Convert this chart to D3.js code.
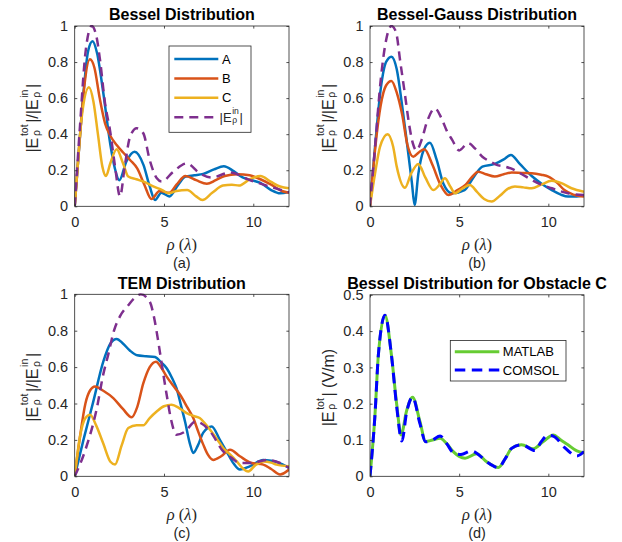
<!DOCTYPE html>
<html>
<head>
<meta charset="utf-8">
<script src="https://cdn.jsdelivr.net/npm/d3@7"></script>
<style>
  body { margin: 0; background: #fff; }
  svg { display: block; font-family: "Liberation Sans", Arial, Helvetica, sans-serif; }
</style>
</head>
<body>
<svg id="chart" width="622" height="542"></svg>
<script>
// ---- data: [rho (lambda), value] ----
const besselA = [[0,0],[0.25,0.33],[0.5,0.64],[0.75,0.86],[1.0,0.915],[1.25,0.85],[1.6,0.63],[2.0,0.34],[2.25,0.21],[2.5,0.145],[2.9,0.25],[3.35,0.303],[3.85,0.23],[4.2,0.11],[4.5,0.035],[4.85,0.075],[5.3,0.055],[5.8,0.12],[6.2,0.165],[6.7,0.172],[7.2,0.18],[7.8,0.205],[8.35,0.222],[8.9,0.195],[9.4,0.16],[9.9,0.145],[10.4,0.13],[11.0,0.09],[11.5,0.072],[12,0.08]];
const besselB = [[0,0],[0.25,0.33],[0.5,0.63],[0.85,0.815],[1.1,0.77],[1.4,0.6],[1.7,0.46],[2.0,0.39],[2.35,0.34],[2.7,0.3],[3.1,0.257],[3.5,0.21],[3.9,0.12],[4.3,0.04],[4.75,0.085],[5.3,0.075],[5.7,0.12],[6.2,0.168],[6.8,0.145],[7.4,0.125],[7.9,0.145],[8.4,0.168],[9.1,0.178],[9.8,0.172],[10.4,0.15],[11.0,0.12],[11.6,0.085],[12,0.075]];
const besselC = [[0,0],[0.15,0.2],[0.4,0.5],[0.8,0.66],[1.05,0.58],[1.3,0.4],[1.55,0.22],[1.75,0.168],[2.0,0.24],[2.35,0.316],[2.7,0.24],[3.0,0.165],[3.45,0.15],[3.9,0.135],[4.4,0.11],[4.9,0.09],[5.25,0.072],[5.7,0.085],[6.3,0.09],[6.8,0.055],[7.15,0.035],[7.7,0.075],[8.3,0.115],[8.8,0.12],[9.2,0.115],[9.8,0.15],[10.4,0.168],[11.0,0.135],[11.5,0.11],[12,0.1]];
const besselInc = [[0,0],[0.3,0.45],[0.6,0.85],[0.95,1.0],[1.2,0.95],[1.42,0.81],[1.7,0.57],[1.98,0.42],[2.26,0.22],[2.54,0.055],[2.8,0.22],[3.1,0.386],[3.47,0.433],[3.84,0.405],[4.2,0.257],[4.6,0.155],[4.87,0.137],[5.5,0.19],[6.27,0.238],[7.0,0.183],[7.67,0.16],[8.7,0.187],[9.8,0.146],[10.9,0.11],[12,0.078]];

const gaussA = [[0,0],[0.3,0.35],[0.6,0.65],[0.9,0.8],[1.2,0.83],[1.5,0.76],[1.8,0.56],[2.1,0.33],[2.35,0.13],[2.5,0.007],[2.71,0.18],[3.0,0.31],[3.36,0.353],[3.74,0.257],[4.11,0.127],[4.6,0.072],[5.3,0.09],[5.8,0.16],[6.3,0.22],[7.0,0.235],[7.5,0.26],[7.9,0.285],[8.4,0.235],[9.1,0.165],[9.7,0.12],[10.2,0.09],[10.7,0.065],[11.1,0.054],[11.6,0.055],[12,0.063]];
const gaussB = [[0,0],[0.3,0.33],[0.6,0.56],[0.9,0.67],[1.2,0.695],[1.5,0.63],[1.8,0.51],[2.1,0.34],[2.43,0.275],[2.75,0.3],[3.05,0.316],[3.5,0.23],[3.95,0.12],[4.4,0.063],[4.9,0.09],[5.35,0.118],[5.7,0.16],[6.07,0.192],[6.5,0.178],[7.0,0.165],[7.5,0.178],[7.95,0.187],[8.5,0.185],[9.07,0.183],[9.6,0.175],[10.0,0.165],[10.5,0.13],[10.9,0.09],[11.4,0.065],[12,0.054]];
const gaussC = [[0,0],[0.28,0.18],[0.56,0.33],[0.99,0.4],[1.3,0.33],[1.5,0.22],[1.96,0.103],[2.3,0.18],[2.71,0.235],[3.1,0.16],[3.55,0.09],[3.9,0.12],[4.2,0.155],[4.5,0.11],[4.77,0.072],[5.2,0.1],[5.6,0.118],[6.0,0.08],[6.4,0.04],[6.82,0.026],[7.3,0.06],[7.7,0.095],[8.13,0.11],[8.6,0.105],[9.07,0.1],[9.6,0.12],[10.19,0.142],[10.7,0.13],[11.3,0.1],[12,0.081]];
const gaussInc = [[0,0],[0.3,0.35],[0.6,0.7],[0.9,0.92],[1.2,1.0],[1.45,0.97],[1.7,0.8],[1.96,0.62],[2.2,0.45],[2.4,0.35],[2.6,0.31],[2.9,0.37],[3.2,0.47],[3.64,0.543],[4.0,0.49],[4.3,0.42],[4.6,0.37],[5.0,0.31],[5.5,0.35],[5.9,0.32],[6.3,0.275],[6.7,0.25],[7.1,0.23],[7.5,0.222],[7.9,0.21],[8.4,0.185],[9.07,0.146],[9.6,0.12],[10.2,0.1],[10.7,0.083],[11.1,0.072],[12,0.063]];

const temA = [[0,0],[0.49,0.2],[1.04,0.41],[1.6,0.63],[2.0,0.73],[2.35,0.755],[2.7,0.73],[3.1,0.69],[3.5,0.665],[4.0,0.66],[4.5,0.655],[4.85,0.625],[5.15,0.594],[5.45,0.54],[5.7,0.484],[5.95,0.39],[6.18,0.3],[6.45,0.18],[6.64,0.128],[6.9,0.17],[7.2,0.24],[7.67,0.274],[8.13,0.2],[8.5,0.137],[8.9,0.07],[9.25,0.037],[9.8,0.055],[10.56,0.09],[11.0,0.085],[11.4,0.075],[12,0.046]];
const temB = [[0,0],[0.3,0.22],[0.6,0.4],[0.85,0.47],[1.14,0.494],[1.6,0.47],[2.16,0.43],[2.7,0.37],[3.19,0.324],[3.5,0.38],[3.84,0.51],[4.2,0.6],[4.55,0.63],[4.87,0.594],[5.15,0.548],[5.5,0.5],[5.9,0.448],[6.3,0.38],[6.64,0.32],[6.9,0.25],[7.2,0.174],[7.45,0.12],[7.76,0.09],[8.2,0.11],[8.7,0.146],[9.25,0.11],[9.9,0.073],[10.56,0.064],[11.0,0.04],[11.5,0.01],[12,0.037]];
const temC = [[0,0],[0.3,0.22],[0.6,0.32],[0.86,0.338],[1.2,0.28],[1.6,0.18],[2.0,0.08],[2.26,0.065],[2.63,0.17],[3.0,0.265],[3.47,0.28],[3.84,0.28],[4.2,0.32],[4.59,0.356],[5.0,0.385],[5.43,0.393],[5.85,0.375],[6.27,0.347],[6.7,0.33],[7.0,0.32],[7.3,0.29],[7.58,0.256],[8.0,0.2],[8.32,0.155],[8.7,0.12],[9.07,0.082],[9.4,0.045],[9.72,0.027],[10.1,0.06],[10.56,0.082],[11.0,0.075],[11.3,0.064],[12,0.055]];
const temInc = [[0,0],[0.58,0.14],[1.23,0.37],[1.6,0.56],[1.88,0.67],[2.2,0.8],[2.54,0.88],[3.0,0.94],[3.3,0.975],[3.7,1.0],[4.2,0.96],[4.45,0.87],[4.68,0.74],[4.9,0.6],[5.15,0.448],[5.4,0.31],[5.7,0.228],[6.2,0.247],[6.74,0.3],[7.1,0.29],[7.58,0.247],[8.32,0.137],[8.8,0.1],[9.25,0.073],[9.9,0.073],[10.75,0.09],[11.5,0.073],[12,0.046]];

const matlabC = [[0,0],[0.28,0.17],[0.47,0.335],[0.84,0.444],[1.2,0.335],[1.5,0.197],[1.74,0.114],[2.05,0.18],[2.39,0.218],[2.8,0.151],[3.12,0.096],[3.5,0.1],[3.93,0.105],[4.3,0.09],[4.67,0.068],[5.0,0.055],[5.33,0.05],[5.98,0.062],[6.54,0.04],[7.2,0.024],[7.6,0.05],[7.94,0.077],[8.5,0.087],[9.16,0.076],[9.7,0.095],[10.28,0.114],[10.7,0.1],[11.1,0.087],[11.6,0.07],[12,0.065]];
const comsolC = [[0,0],[0.28,0.17],[0.47,0.335],[0.84,0.444],[1.2,0.335],[1.5,0.19],[1.79,0.097],[2.05,0.175],[2.39,0.218],[2.8,0.145],[3.12,0.095],[3.5,0.1],[3.93,0.111],[4.3,0.09],[4.67,0.065],[5.1,0.06],[5.7,0.07],[6.2,0.055],[6.6,0.038],[7.2,0.024],[7.6,0.05],[7.94,0.077],[8.5,0.087],[9.25,0.071],[9.6,0.095],[9.96,0.113],[10.3,0.11],[10.9,0.08],[11.6,0.056],[12,0.068]];

const rhoTicks = [0, 5, 10];
const normTicks = [0, 0.2, 0.4, 0.6, 0.8, 1];
const fieldTicks = [0, 0.1, 0.2, 0.3, 0.4, 0.5];
const titles = ["Bessel Distribution", "Bessel-Gauss Distribution", "TEM Distribution", "Bessel Distribution for Obstacle C"];
const captions = ["(a)", "(b)", "(c)", "(d)"];
const obstacleNames = ["A", "B", "C"];
const solverNames = ["MATLAB", "COMSOL"];

const col = { A: "#0072BD", B: "#D95319", C: "#EDB120", inc: "#7E2F8E", matlab: "#66CC33", comsol: "#0000FF" };
const axisColor = "#262626";

// label pieces: strings are plain text, objects stack a superscript over a subscript
const normLabel = ["|E", { sup: "tot", sub: "ρ" }, "|/|E", { sup: "in", sub: "ρ" }, "|"];
const fieldLabel = ["|E", { sup: "tot", sub: "ρ" }, "| (V/m)"];
const incLabel = ["|E", { sup: "in", sub: "ρ" }, "|"];

const abc = (a, b, c, inc) => [
  { data: a, color: col.A, width: 2.5, name: obstacleNames[0] },
  { data: b, color: col.B, width: 2.5, name: obstacleNames[1] },
  { data: c, color: col.C, width: 2.5, name: obstacleNames[2] },
  { data: inc, color: col.inc, width: 2.5, dash: "9,6", label: incLabel }
];

const panels = [
  { left: 74.7, right: 289, top: 26, bottom: 206.3, yMax: 1, yTicks: normTicks, yLabel: normLabel,
    series: abc(besselA, besselB, besselC, besselInc),
    legend: { x: 169, y: 46, w: 82, h: 86.3, first: 13, step: 19.4, lineX: [5.3, 49.3], textX: 53 } },
  { left: 370, right: 584, top: 26, bottom: 206.3, yMax: 1, yTicks: normTicks, yLabel: normLabel,
    series: abc(gaussA, gaussB, gaussC, gaussInc) },
  { left: 74.7, right: 289, top: 294.3, bottom: 476.3, yMax: 1, yTicks: normTicks, yLabel: normLabel,
    series: abc(temA, temB, temC, temInc) },
  { left: 370, right: 584, top: 294.8, bottom: 476.3, yMax: 0.5, yTicks: fieldTicks, yLabel: fieldLabel,
    series: [
      { data: matlabC, color: col.matlab, width: 3, name: solverNames[0] },
      { data: comsolC, color: col.comsol, width: 3, dash: "10.5,6.5", name: solverNames[1] }
    ],
    legend: { x: 450.3, y: 340.5, w: 115.7, h: 40.5, first: 11.3, step: 18.3, lineX: [4.5, 49], textX: 52.5 } }
];

const svg = d3.select("#chart");

// draw a small TeX-like label; returns the group (centred on x = 0 when centre is true)
function mathText(parent, pieces, size, opts = {}) {
  const outer = parent.append("g");
  const g = outer.append("g");
  const gap = opts.gap || 0;
  const s = size * 0.66;
  let cx = 0;
  pieces.forEach((p, i) => {
    if (i > 0) cx += gap;
    if (typeof p === "string") {
      const t = g.append("text").attr("x", cx).attr("font-size", size).text(p);
      cx += t.node().getComputedTextLength();
    } else {
      const sup = g.append("text").attr("x", cx).attr("y", -size * 0.62).attr("font-size", s).text(p.sup);
      const sub = g.append("text").attr("x", cx).attr("y", size * 0.12).attr("font-size", s).text(p.sub);
      cx += Math.max(sup.node().getComputedTextLength(), sub.node().getComputedTextLength());
    }
  });
  g.selectAll("text").attr("fill", opts.fill || axisColor);
  if (opts.centre) g.attr("transform", `translate(${-cx / 2},0)`);
  return outer;
}

panels.forEach((p, i) => {
  const x = d3.scaleLinear().domain([0, 12]).range([p.left, p.right]);
  const y = d3.scaleLinear().domain([0, p.yMax]).range([p.bottom, p.top]);
  const g = svg.append("g");

  g.append("clipPath").attr("id", "clip" + i)
    .append("rect")
    .attr("x", p.left).attr("y", p.top - 1)
    .attr("width", p.right - p.left).attr("height", p.bottom - p.top + 1);

  const line = d3.line()
    .x(d => x(d[0]))
    .y(d => y(d[1]))
    .curve(d3.curveMonotoneX);

  g.append("g")
    .attr("clip-path", `url(#clip${i})`)
    .selectAll("path")
    .data(p.series)
    .join("path")
    .attr("d", s => line(s.data))
    .attr("fill", "none")
    .attr("stroke", s => s.color)
    .attr("stroke-width", s => s.width)
    .attr("stroke-dasharray", s => s.dash || null)
    .attr("stroke-linejoin", "round");

  // axes: ticks pointing inwards on all four sides
  const tick = 2.6;
  const styleAxis = sel => {
    sel.select(".domain").remove();
    sel.attr("font-family", null).attr("font-size", 14.5).attr("color", axisColor);
    sel.selectAll(".tick line").attr("stroke-width", 0.8);
  };
  g.append("g").attr("transform", `translate(0,${p.bottom})`)
    .call(d3.axisBottom(x).tickValues(rhoTicks).tickSizeInner(-tick).tickSizeOuter(0).tickPadding(10))
    .call(styleAxis);
  g.append("g").attr("transform", `translate(0,${p.top})`)
    .call(d3.axisTop(x).tickValues(rhoTicks).tickSizeInner(-tick).tickSizeOuter(0).tickFormat(""))
    .call(styleAxis);
  g.append("g").attr("transform", `translate(${p.left},0)`)
    .call(d3.axisLeft(y).tickValues(p.yTicks).tickSizeInner(-tick).tickSizeOuter(0).tickPadding(6.5).tickFormat(d3.format("~g")))
    .call(styleAxis);
  g.append("g").attr("transform", `translate(${p.right},0)`)
    .call(d3.axisRight(y).tickValues(p.yTicks).tickSizeInner(-tick).tickSizeOuter(0).tickFormat(""))
    .call(styleAxis);

  g.append("rect")
    .attr("x", p.left).attr("y", p.top)
    .attr("width", p.right - p.left).attr("height", p.bottom - p.top)
    .attr("fill", "none").attr("stroke", axisColor).attr("stroke-width", 0.8);

  const mid = (p.left + p.right) / 2;

  g.append("text")
    .attr("x", mid).attr("y", p.top - 5.8)
    .attr("text-anchor", "middle")
    .attr("font-weight", "bold").attr("font-size", 16)
    .attr("fill", "#000")
    .text(titles[i]);

  // x label: rho (lambda)
  const xl = g.append("text")
    .attr("x", mid).attr("y", p.bottom + 43.5)
    .attr("text-anchor", "middle")
    .attr("font-family", "'Liberation Serif', 'DejaVu Serif', serif")
    .attr("font-size", 16.5)
    .attr("fill", axisColor);
  xl.append("tspan").attr("font-style", "italic").text("ρ");
  xl.append("tspan").text(" (");
  xl.append("tspan").attr("font-style", "italic").text("λ");
  xl.append("tspan").text(")");

  g.append("text")
    .attr("x", mid).attr("y", p.bottom + 62)
    .attr("text-anchor", "middle")
    .attr("font-size", 14.5)
    .attr("fill", axisColor)
    .text(captions[i]);

  // y label, rotated
  const yl = mathText(g, p.yLabel, 16, { centre: true, gap: 1.6 });
  yl.attr("transform", `translate(${p.left - 36.5},${(p.top + p.bottom) / 2 + 2}) rotate(-90)`);

  if (p.legend) {
    const L = p.legend;
    const lg = g.append("g").attr("transform", `translate(${L.x},${L.y})`);
    lg.append("rect")
      .attr("width", L.w).attr("height", L.h)
      .attr("fill", "#fff").attr("stroke", axisColor).attr("stroke-width", 0.8);
    p.series.forEach((s, k) => {
      const ly = L.first + k * L.step;
      lg.append("line")
        .attr("x1", L.lineX[0]).attr("x2", L.lineX[1])
        .attr("y1", ly).attr("y2", ly)
        .attr("stroke", s.color).attr("stroke-width", s.width)
        .attr("stroke-dasharray", s.dash || null);
      if (s.label) {
        const t = mathText(lg, s.label, 13, { gap: 0.6 });
        t.attr("transform", `translate(${L.textX - 2.5},${ly + 4.6})`);
      } else {
        lg.append("text")
          .attr("x", L.textX).attr("y", ly)
          .attr("dy", "0.36em")
          .attr("font-size", 13)
          .attr("fill", "#000")
          .text(s.name);
      }
    });
  }
});
</script>
</body>
</html>
